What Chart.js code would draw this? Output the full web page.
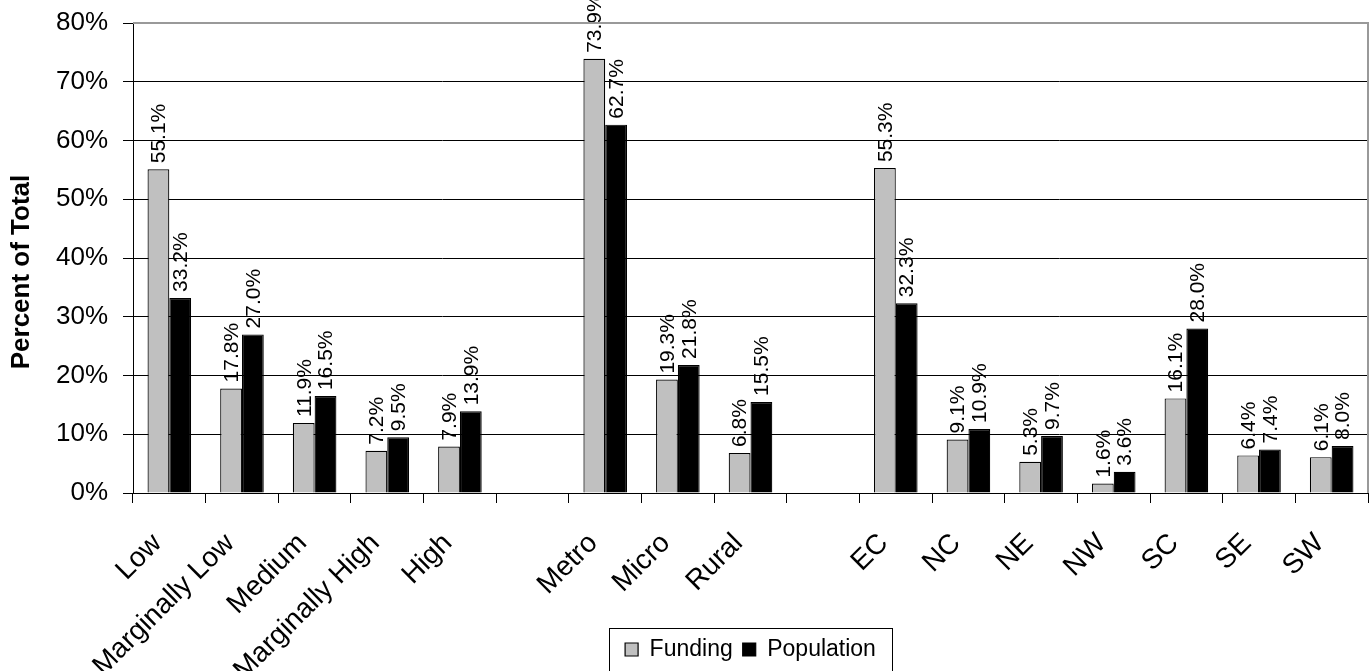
<!DOCTYPE html>
<html>
<head>
<meta charset="utf-8">
<script src="https://cdn.jsdelivr.net/npm/chart.js@4.4.1/dist/chart.umd.min.js"></script>
<style>
  html, body { margin: 0; padding: 0; background: #ffffff; }
  #wrap { width: 1370px; height: 671px; position: relative; }
</style>
</head>
<body>
<div id="wrap"><canvas id="chart"></canvas></div>
<script>
// Categories grouped by income level, area type and region (blank slots separate groups)
const categories = ['Low', 'Marginally Low', 'Medium', 'Marginally High', 'High', '',
                    'Metro', 'Micro', 'Rural', '',
                    'EC', 'NC', 'NE', 'NW', 'SC', 'SE', 'SW'];

// Share of total funding (%)
const funding = [55.1, 17.8, 11.9, 7.2, 7.9, null,
                 73.9, 19.3, 6.8, null,
                 55.3, 9.1, 5.3, 1.6, 16.1, 6.4, 6.1];

// Share of total population (%)
const population = [33.2, 27.0, 16.5, 9.5, 13.9, null,
                    62.7, 21.8, 15.5, null,
                    32.3, 10.9, 9.7, 3.6, 28.0, 7.4, 8.0];

const yTicks = [0, 10, 20, 30, 40, 50, 60, 70, 80];
const yTitle = 'Percent of Total';

const FONT = '"Liberation Sans", Arial, Helvetica, sans-serif';

// Vertical value labels above each bar
const barLabels = {
  id: 'barLabels',
  afterDatasetsDraw(chart) {
    const ctx = chart.ctx;
    ctx.save();
    ctx.font = '21px ' + FONT;
    ctx.fillStyle = '#000';
    ctx.textAlign = 'left';
    ctx.textBaseline = 'middle';
    chart.data.datasets.forEach((ds, di) => {
      const meta = chart.getDatasetMeta(di);
      meta.data.forEach((bar, i) => {
        const v = ds.data[i];
        if (v === null || v === undefined) return;
        ctx.save();
        ctx.translate(bar.x + 1, bar.y - 6);
        ctx.rotate(-Math.PI / 2);
        ctx.fillText(v.toFixed(1) + '%', 0, 0);
        ctx.restore();
      });
    });
    ctx.restore();
  }
};

// Grey frame on the top and right of the plot area, legend box, value-axis title
const frames = {
  id: 'frames',
  afterDraw(chart) {
    const ctx = chart.ctx;
    const a = chart.chartArea;
    ctx.save();
    ctx.strokeStyle = '#999999';
    ctx.lineWidth = 2;
    ctx.beginPath();
    ctx.moveTo(a.left, a.top);
    ctx.lineTo(a.right, a.top);
    ctx.lineTo(a.right, a.bottom);
    ctx.stroke();

    const lg = chart.legend;
    if (lg && lg.lineWidths) {
      const cx = (lg.left + lg.right) / 2;
      const w = lg.lineWidths[0] + 22;
      ctx.strokeStyle = '#000';
      ctx.lineWidth = 1;
      ctx.strokeRect(Math.round(cx - w / 2) + 0.5, lg.top + 0.5, Math.round(w), 60);
    }

    // axis title, centred slightly below the middle of the plot
    ctx.save();
    ctx.font = 'bold 26px ' + FONT;
    ctx.fillStyle = '#000';
    ctx.textAlign = 'center';
    ctx.textBaseline = 'middle';
    ctx.translate(22, (a.top + a.bottom) / 2 + 14);
    ctx.rotate(-Math.PI / 2);
    ctx.fillText(yTitle, 0, 0);
    ctx.restore();
    ctx.restore();
  }
};

new Chart(document.getElementById('chart'), {
  type: 'bar',
  data: {
    labels: categories,
    datasets: [
      {
        label: 'Funding',
        data: funding,
        backgroundColor: '#c0c0c0',
        borderColor: '#000000',
        borderWidth: 1.2,
        categoryPercentage: 0.6,
        barPercentage: 1.0
      },
      {
        label: 'Population',
        data: population,
        backgroundColor: '#000000',
        borderColor: '#000000',
        borderWidth: 1.2,
        categoryPercentage: 0.6,
        barPercentage: 1.0
      }
    ]
  },
  options: {
    responsive: true,
    maintainAspectRatio: false,
    animation: false,
    devicePixelRatio: 1,
    layout: { padding: { top: 23, right: 2, left: 4, bottom: 0 } },
    plugins: {
      legend: {
        position: 'bottom',
        fullSize: false,
        labels: {
          font: { family: FONT, size: 23 },
          color: '#000',
          boxWidth: 13,
          boxHeight: 13,
          padding: 10,
          useBorderRadius: false
        }
      },
      tooltip: { enabled: false },
      title: { display: false }
    },
    scales: {
      x: {
        offset: true,
        grid: {
          display: true,
          drawOnChartArea: false,
          drawTicks: true,
          tickLength: 10,
          color: '#000',
          offset: true
        },
        border: { color: '#000', width: 1 },
        ticks: {
          autoSkip: false,
          maxRotation: 45,
          minRotation: 45,
          padding: 24,
          labelOffset: -12,
          color: '#000',
          font: { family: FONT, size: 28 }
        },
        afterFit(scale) {
          scale.height = 135;
          scale.paddingLeft = 0;
          scale.paddingRight = 0;
        },
        // let the slanted labels run past the bottom of the axis box
        afterUpdate(scale) { scale._computeLabelArea = () => undefined; }
      },
      y: {
        min: 0,
        max: 80,
        afterBuildTicks(scale) { scale.ticks = yTicks.map(v => ({ value: v })); },
        grid: {
          color: (c) => (c.tick && c.tick.value === 80 ? '#999999' : '#000000'),
          tickColor: '#000',
          lineWidth: 1,
          tickLength: 10
        },
        border: { color: '#000', width: 1 },
        ticks: {
          padding: 15,
          color: '#000',
          font: { family: FONT, size: 26 },
          callback: (v) => v + '%'
        },
        title: { display: false },
        afterFit(scale) {
          scale.width = 129;
          scale.paddingTop = 0;
          scale.paddingBottom = 0;
        }
      }
    }
  },
  plugins: [barLabels, frames]
});
</script>
</body>
</html>
